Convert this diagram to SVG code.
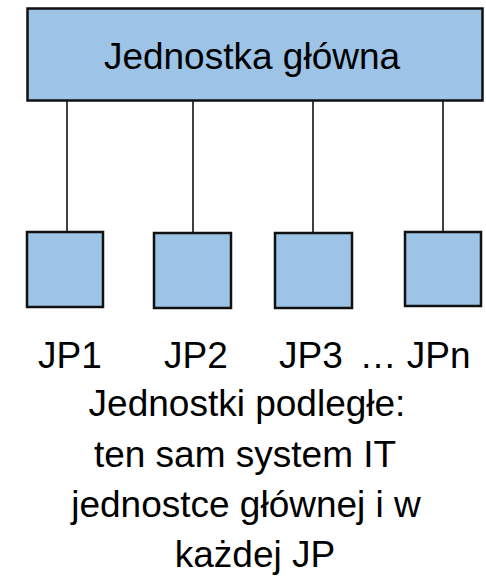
<svg xmlns="http://www.w3.org/2000/svg" width="486" height="579" viewBox="0 0 486 579">
  <style>
    .box { fill: #9DC3E6; stroke: #111; stroke-width: 2.5; }
    .link { stroke: #000; stroke-width: 1.5; fill: none; }
    .lbl { font-family: "Liberation Sans", Arial, sans-serif; font-size: 37px; fill: #000; text-anchor: middle; }
  </style>
  <rect width="486" height="579" fill="#fff"/>

  <!-- connectors from the main unit down to each subordinate unit -->
  <g id="connectors">
    <line class="link" x1="67" y1="101" x2="67" y2="232"/>
    <line class="link" x1="193" y1="101" x2="193" y2="233"/>
    <line class="link" x1="313" y1="101" x2="313" y2="233"/>
    <line class="link" x1="443" y1="101" x2="443" y2="232"/>
  </g>

  <g id="main-unit">
    <rect class="box" x="27.5" y="8.5" width="455" height="92"/>
    <text class="lbl" x="252" y="69">Jednostka główna</text>
  </g>

  <g id="jp1">
    <rect class="box" x="27" y="232" width="76" height="75"/>
    <text class="lbl" x="70" y="368">JP1</text>
  </g>
  <g id="jp2">
    <rect class="box" x="154" y="233" width="77" height="75"/>
    <text class="lbl" x="196" y="368">JP2</text>
  </g>
  <g id="jp3">
    <rect class="box" x="275" y="233" width="77" height="75"/>
    <text class="lbl" x="311" y="368">JP3</text>
  </g>
  <g id="jpn">
    <rect class="box" x="405" y="232" width="76" height="74"/>
    <text class="lbl" x="415" y="368">… JPn</text>
  </g>

  <g id="caption">
    <text class="lbl" x="247" y="416">Jednostki podległe:</text>
    <text class="lbl" x="245" y="467">ten sam system IT</text>
    <text class="lbl" x="246" y="517">jednostce głównej i w</text>
    <text class="lbl" x="255" y="567">każdej JP</text>
  </g>
</svg>
